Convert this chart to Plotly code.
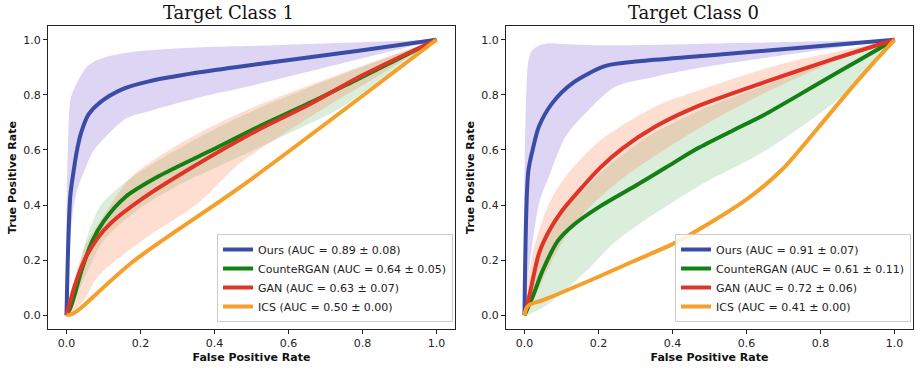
import plotly.graph_objects as go

# ---------------- Data ----------------
# Target Class 1
c1_ours_x = [0, 0.0101, 0.02, 0.03, 0.04, 0.06, 0.09, 0.15, 0.22, 0.35, 0.52, 0.79, 1.0]
c1_ours_y = [0, 0.43, 0.53, 0.61, 0.665, 0.73, 0.772, 0.82, 0.848, 0.88, 0.912, 0.96, 1.0]
c1_ours_up_x = [0, 0.0101, 0.02, 0.054, 0.09, 0.15, 0.206, 0.35, 0.49, 1.0]
c1_ours_up_y = [0, 0.78, 0.82, 0.90, 0.93, 0.95, 0.96, 0.972, 0.977, 1.0]
c1_ours_lo_x = [0, 0.0101, 0.02, 0.03, 0.05, 0.072, 0.10, 0.162, 0.22, 0.35, 0.49, 1.0]
c1_ours_lo_y = [0, 0.28, 0.40, 0.46, 0.53, 0.595, 0.64, 0.715, 0.74, 0.788, 0.83, 1.0]

c1_cgan_x = [0, 0.01, 0.02, 0.04, 0.07, 0.10, 0.16, 0.25, 0.386, 0.52, 0.656, 0.791, 1.0]
c1_cgan_y = [0, 0.025, 0.065, 0.16, 0.27, 0.34, 0.43, 0.505, 0.595, 0.685, 0.77, 0.86, 1.0]
c1_cgan_up_x = [0, 0.026, 0.057, 0.093, 0.147, 0.192, 0.309, 0.467, 0.737, 1.0]
c1_cgan_up_y = [0, 0.128, 0.29, 0.40, 0.47, 0.515, 0.61, 0.72, 0.87, 1.0]
c1_cgan_lo_x = [0, 0.04, 0.10, 0.20, 0.30, 0.467, 0.60, 0.737, 0.85, 1.0]
c1_cgan_lo_y = [0, 0.11, 0.27, 0.39, 0.47, 0.575, 0.66, 0.75, 0.855, 1.0]

c1_gan_x = [0, 0.01, 0.0215, 0.0485, 0.084, 0.12, 0.207, 0.341, 0.521, 0.656, 0.791, 1.0]
c1_gan_y = [0, 0.05, 0.104, 0.20, 0.28, 0.335, 0.425, 0.538, 0.675, 0.765, 0.865, 1.0]
c1_gan_up_x = [0, 0.02, 0.05, 0.10, 0.174, 0.309, 0.489, 0.737, 1.0]
c1_gan_up_y = [0, 0.12, 0.25, 0.36, 0.50, 0.625, 0.746, 0.875, 1.0]
c1_gan_lo_x = [0, 0.05, 0.084, 0.219, 0.354, 0.467, 0.60, 0.737, 0.85, 1.0]
c1_gan_lo_y = [0, 0.06, 0.14, 0.285, 0.405, 0.55, 0.67, 0.785, 0.875, 1.0]

c1_ics_x = [0, 0.01, 0.02, 0.035, 0.18, 0.48, 1.0]
c1_ics_y = [0, 0.002, 0.008, 0.022, 0.195, 0.475, 1.0]

# Target Class 0
c0_ours_x = [0, 0.0101, 0.022, 0.039, 0.075, 0.129, 0.219, 0.309, 0.489, 1.0]
c0_ours_y = [0, 0.52, 0.60, 0.685, 0.77, 0.842, 0.905, 0.922, 0.942, 1.0]
c0_ours_up_x = [0, 0.0101, 0.02, 0.04, 0.066, 0.10, 0.219, 0.467, 1.0]
c0_ours_up_y = [0, 0.92, 0.96, 0.98, 0.987, 0.985, 0.98, 0.985, 1.0]
c0_ours_lo_x = [0, 0.0101, 0.02, 0.04, 0.066, 0.111, 0.174, 0.246, 0.354, 0.489, 1.0]
c0_ours_lo_y = [0, 0.15, 0.25, 0.41, 0.504, 0.649, 0.746, 0.83, 0.866, 0.902, 1.0]

c0_cgan_x = [0, 0.022, 0.05, 0.09, 0.13, 0.204, 0.30, 0.383, 0.467, 0.562, 0.647, 0.742, 0.826, 0.904, 1.0]
c0_cgan_y = [0, 0.067, 0.165, 0.27, 0.325, 0.395, 0.47, 0.537, 0.605, 0.67, 0.727, 0.80, 0.866, 0.926, 1.0]
c0_cgan_up_x = [0, 0.012, 0.039, 0.066, 0.102, 0.156, 0.204, 0.264, 0.354, 0.467, 0.647, 0.826, 1.0]
c0_cgan_up_y = [0, 0.06, 0.215, 0.295, 0.37, 0.45, 0.515, 0.583, 0.665, 0.74, 0.833, 0.918, 1.0]
c0_cgan_lo_x = [0, 0.066, 0.174, 0.24, 0.309, 0.473, 0.652, 0.832, 0.916, 1.0]
c0_cgan_lo_y = [0, 0.043, 0.17, 0.26, 0.33, 0.47, 0.598, 0.767, 0.866, 1.0]

c0_gan_x = [0, 0.0125, 0.039, 0.066, 0.102, 0.156, 0.204, 0.264, 0.354, 0.467, 0.647, 0.826, 1.0]
c0_gan_y = [0, 0.067, 0.224, 0.305, 0.38, 0.465, 0.535, 0.605, 0.685, 0.758, 0.845, 0.926, 1.0]
c0_gan_up_x = [0, 0.022, 0.066, 0.111, 0.204, 0.354, 0.48, 0.697, 1.0]
c0_gan_up_y = [0, 0.224, 0.405, 0.504, 0.634, 0.758, 0.82, 0.913, 1.0]
c0_gan_lo_x = [0, 0.02, 0.049, 0.111, 0.174, 0.273, 0.467, 0.647, 0.826, 1.0]
c0_gan_lo_y = [0, 0.04, 0.128, 0.285, 0.39, 0.505, 0.675, 0.806, 0.914, 1.0]

c0_ics_x = [0, 0.005, 0.0125, 0.05, 0.18, 0.293, 0.40, 0.47, 0.605, 0.697, 0.787, 0.874, 0.949, 1.0]
c0_ics_y = [0, 0.025, 0.037, 0.055, 0.128, 0.195, 0.258, 0.31, 0.425, 0.53, 0.67, 0.81, 0.925, 1.0]

titles = ["Target Class 1", "Target Class 0"]
legend_c1 = ["Ours (AUC = 0.89 ± 0.08)", "CounteRGAN (AUC = 0.64 ± 0.05)",
             "GAN (AUC = 0.63 ± 0.07)", "ICS (AUC = 0.50 ± 0.00)"]
legend_c0 = ["Ours (AUC = 0.91 ± 0.07)", "CounteRGAN (AUC = 0.61 ± 0.11)",
             "GAN (AUC = 0.72 ± 0.06)", "ICS (AUC = 0.41 ± 0.00)"]
tick_vals = [0.0, 0.2, 0.4, 0.6, 0.8, 1.0]
tick_text = ["0.0", "0.2", "0.4", "0.6", "0.8", "1.0"]

# ---------------- Styling ----------------
line_colors = ["#3b4ca6", "#138013", "#df3526", "#f5a02b"]
fill_colors = ["rgba(147,112,219,0.30)", "rgba(0,128,0,0.14)", "rgba(255,127,80,0.26)"]
SMOOTH = 0.8

fig = go.Figure()

panels = [
    dict(xa="x", ya="y", legend="legend",
         means=[(c1_ours_x, c1_ours_y), (c1_cgan_x, c1_cgan_y), (c1_gan_x, c1_gan_y), (c1_ics_x, c1_ics_y)],
         bands=[(c1_ours_up_x, c1_ours_up_y, c1_ours_lo_x, c1_ours_lo_y),
                (c1_cgan_up_x, c1_cgan_up_y, c1_cgan_lo_x, c1_cgan_lo_y),
                (c1_gan_up_x, c1_gan_up_y, c1_gan_lo_x, c1_gan_lo_y)],
         names=legend_c1),
    dict(xa="x2", ya="y2", legend="legend2",
         means=[(c0_ours_x, c0_ours_y), (c0_cgan_x, c0_cgan_y), (c0_gan_x, c0_gan_y), (c0_ics_x, c0_ics_y)],
         bands=[(c0_ours_up_x, c0_ours_up_y, c0_ours_lo_x, c0_ours_lo_y),
                (c0_cgan_up_x, c0_cgan_up_y, c0_cgan_lo_x, c0_cgan_lo_y),
                (c0_gan_up_x, c0_gan_up_y, c0_gan_lo_x, c0_gan_lo_y)],
         names=legend_c0),
]

for p in panels:
    for (ux, uy, lx, ly), fc in zip(p["bands"], fill_colors):
        fig.add_trace(go.Scatter(
            x=list(ux) + list(lx)[::-1], y=list(uy) + list(ly)[::-1],
            fill="toself", fillcolor=fc, mode="lines",
            line=dict(width=0, color=fc, shape="spline", smoothing=SMOOTH),
            showlegend=False, hoverinfo="skip", xaxis=p["xa"], yaxis=p["ya"]))
    for (mx, my), col, name in zip(p["means"], line_colors, p["names"]):
        fig.add_trace(go.Scatter(
            x=mx, y=my, mode="lines", name=name,
            line=dict(color=col, width=4, shape="spline", smoothing=SMOOTH),
            xaxis=p["xa"], yaxis=p["ya"], legend=p["legend"]))

W, H = 917, 368
ax_common = dict(range=[-0.05, 1.05], showgrid=False, zeroline=False, showline=True,
                 mirror=True, linecolor="#222", linewidth=1, ticks="outside", ticklen=4,
                 tickcolor="#222", tickvals=tick_vals, ticktext=tick_text, automargin=False,
                 tickfont=dict(family="DejaVu Sans", size=11, color="#222"))
title_font = dict(family="DejaVu Sans", size=11, color="#111")

legend_common = dict(bgcolor="rgba(255,255,255,0.85)", bordercolor="#cccccc", borderwidth=1,
                     font=dict(family="DejaVu Sans", size=11, color="#222"),
                     xanchor="right", yanchor="bottom", itemwidth=30, tracegroupgap=0)

fig.update_layout(
    width=W, height=H, paper_bgcolor="white", plot_bgcolor="white",
    margin=dict(l=0, r=0, t=0, b=0, autoexpand=False),
    xaxis=dict(domain=[48 / W, 455 / W], anchor="y",
               title=dict(text="<b>False Positive Rate</b>", font=title_font, standoff=4), **ax_common),
    yaxis=dict(domain=[(H - 329) / H, (H - 26) / H], anchor="x",
               title=dict(text="<b>True Positive Rate</b>", font=title_font, standoff=4), **ax_common),
    xaxis2=dict(domain=[506 / W, 913 / W], anchor="y2",
                title=dict(text="<b>False Positive Rate</b>", font=title_font, standoff=4), **ax_common),
    yaxis2=dict(domain=[(H - 329) / H, (H - 26) / H], anchor="x2",
                title=dict(text="<b>True Positive Rate</b>", font=title_font, standoff=4), **ax_common),
    legend=dict(x=453 / W, y=(H - 322) / H, **legend_common),
    legend2=dict(x=911 / W, y=(H - 322) / H, **legend_common),
    showlegend=True,
)

for cx, t in zip([228, 693], titles):
    fig.add_annotation(text=t, x=cx / W, y=(H - 12) / H, xref="paper", yref="paper",
                       showarrow=False, xanchor="center", yanchor="middle",
                       font=dict(family="DejaVu Serif", size=18, color="#111"))

fig.write_html("out.html", config={"displayModeBar": False},
               post_script="document.body.style.margin='0px';")
